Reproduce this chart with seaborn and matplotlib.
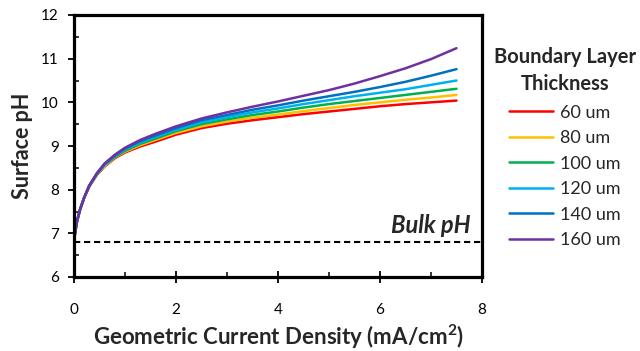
import matplotlib
matplotlib.use("Agg")
import matplotlib.pyplot as plt
from matplotlib.lines import Line2D
from matplotlib.ticker import MultipleLocator
import pandas as pd
import seaborn as sns

# Geometric current density (mA/cm^2)
current_density = [0, 0.02, 0.06, 0.12, 0.2, 0.3, 0.45, 0.6, 0.8, 1.0, 1.3, 1.6,
                   2.0, 2.5, 3.0, 3.5, 4.0, 4.5, 5.0, 5.5, 6.0, 6.5, 7.0, 7.5]

# Surface pH for each boundary layer thickness
ph_60 = [6.8, 7.0, 7.28, 7.55, 7.82, 8.07, 8.34, 8.53, 8.72, 8.85, 8.99, 9.10,
         9.26, 9.41, 9.51, 9.59, 9.66, 9.73, 9.79, 9.85, 9.91, 9.96, 10.00, 10.04]
ph_80 = [6.8, 7.0, 7.28, 7.55, 7.82, 8.08, 8.35, 8.54, 8.74, 8.87, 9.02, 9.14,
         9.30, 9.45, 9.56, 9.65, 9.72, 9.80, 9.87, 9.94, 10.00, 10.06, 10.11, 10.17]
ph_100 = [6.8, 7.0, 7.28, 7.55, 7.82, 8.08, 8.36, 8.56, 8.75, 8.89, 9.05, 9.17,
          9.34, 9.50, 9.61, 9.71, 9.79, 9.88, 9.96, 10.03, 10.10, 10.17, 10.24, 10.31]
ph_120 = [6.8, 7.0, 7.28, 7.55, 7.82, 8.09, 8.36, 8.57, 8.77, 8.92, 9.08, 9.21,
          9.37, 9.54, 9.66, 9.77, 9.86, 9.96, 10.05, 10.14, 10.22, 10.30, 10.40, 10.50]
ph_140 = [6.8, 7.0, 7.28, 7.55, 7.82, 8.09, 8.37, 8.59, 8.78, 8.94, 9.11, 9.24,
          9.41, 9.59, 9.71, 9.83, 9.93, 10.04, 10.14, 10.24, 10.35, 10.47, 10.61, 10.76]
ph_160 = [6.8, 7.0, 7.28, 7.55, 7.82, 8.10, 8.38, 8.60, 8.80, 8.96, 9.14, 9.28,
          9.45, 9.63, 9.77, 9.90, 10.02, 10.15, 10.28, 10.43, 10.60, 10.78, 10.99, 11.24]

thickness_labels = ["60 um", "80 um", "100 um", "120 um", "140 um", "160 um"]
series = [ph_60, ph_80, ph_100, ph_120, ph_140, ph_160]
colors = ["#FF0000", "#FFC000", "#00B050", "#00B0F0", "#0070C0", "#7030A0"]
bulk_ph = 6.8

df = pd.concat(
    [pd.DataFrame({"x": current_density, "pH": vals, "Thickness": lab})
     for lab, vals in zip(thickness_labels, series)],
    ignore_index=True,
)

sns.set_style("white")
plt.rcParams["font.family"] = ["Lato", "DejaVu Sans"]

W, H = 640, 351
fig = plt.figure(figsize=(W / 100, H / 100), dpi=100)
ax = fig.add_axes([74 / W, 1 - 277 / H, (482 - 74) / W, (277 - 15) / H])

sns.lineplot(data=df, x="x", y="pH", hue="Thickness", hue_order=thickness_labels,
             palette=colors, linewidth=1.8, ax=ax, legend=False, sort=False)

# Bulk solution pH reference line
ax.plot([0, 8], [bulk_ph, bulk_ph], color="black", linewidth=1.5,
        linestyle=(0, (3.0, 1.8)))
ax.text(7.77, 7.01, "Bulk pH", ha="right", va="baseline",
        fontsize=17, fontweight="bold", fontstyle="italic")

ax.set_xlim(0, 8)
ax.set_ylim(6, 12)
ax.xaxis.set_major_locator(MultipleLocator(2))
ax.xaxis.set_minor_locator(MultipleLocator(1))
ax.yaxis.set_major_locator(MultipleLocator(1))
ax.yaxis.set_minor_locator(MultipleLocator(0.5))
ax.tick_params(axis="x", which="major", direction="inout", length=9, width=1.3,
               labelsize=11, pad=14, colors="black")
ax.tick_params(axis="x", which="minor", direction="in", length=3.6, width=1.3)
ax.tick_params(axis="y", which="major", direction="out", length=4, width=1.3,
               labelsize=11, pad=7, colors="black")
ax.tick_params(axis="y", which="minor", direction="in", length=3.6, width=1.3)
ax.tick_params(bottom=True, left=True, which="both")

for sp in ax.spines.values():
    sp.set_color("black")
    sp.set_linewidth(2.3)

ax.set_xlabel("Geometric Current Density (mA/cm$^\\mathregular{2}$)",
              fontsize=16, fontweight="bold", labelpad=4.5)
ax.set_ylabel("Surface pH", fontsize=15.5, fontweight="bold", labelpad=6)

# Legend: centred bold title above the colour key
fig.text(565 / W, 1 - 90 / H, "Boundary Layer\nThickness", ha="center",
         va="baseline", fontsize=14.5, fontweight="bold", linespacing=1.42,
         multialignment="center")
handles = [Line2D([0], [0], color=c, linewidth=1.8) for c in colors]
fig.legend(handles, thickness_labels, loc="upper left",
           bbox_to_anchor=(509 / W, 1 - 104.5 / H), frameon=False, fontsize=13,
           handlelength=2.44, handletextpad=0.39, labelspacing=0.53,
           borderaxespad=0, borderpad=0)

fig.savefig("out.png", dpi=100)
